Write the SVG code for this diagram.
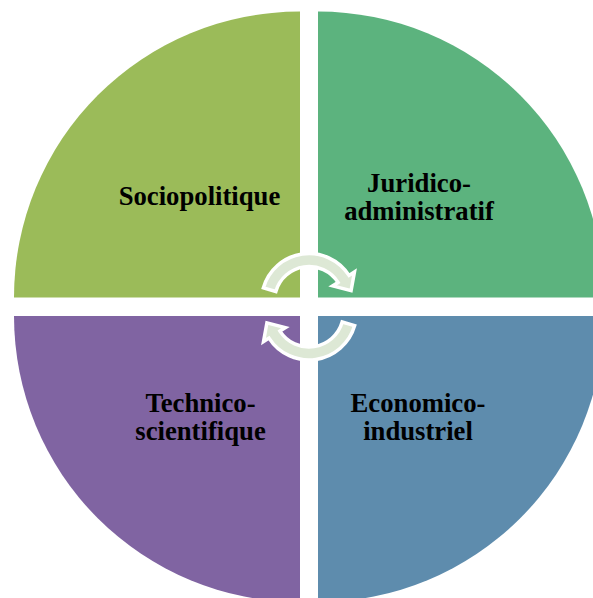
<svg xmlns="http://www.w3.org/2000/svg" width="593" height="598" viewBox="0 0 593 598">
<defs>
<style>
.lbl{font-family:"Liberation Serif","Times New Roman",serif;font-weight:bold;font-size:26.7px;fill:#000;text-anchor:middle}
.arrow{fill:#DDE8D5;stroke:#fff;stroke-width:3.5;stroke-linejoin:miter}
</style>
<path id="cyc" class="arrow" d="M 263.34 287.91 A 47.5 47.5 0 0 1 349.02 275.41 L 354.49 271.91 L 351.08 290.70 L 332.59 285.91 L 338.06 282.41 A 34.5 34.5 0 0 0 275.84 291.49 Z"/>
</defs>
<rect width="593" height="598" fill="#fff"/>
<g id="sociopolitique">
<path d="M 300 297.5 L 14 297.5 A 286 286 0 0 1 300 11.5 Z" fill="#9BBB59"/>
<text class="lbl" x="199.5" y="205">Sociopolitique</text>
</g>
<g id="juridico">
<path d="M 318 297.5 L 318 11.5 A 286 286 0 0 1 604 297.5 Z" fill="#5CB37E"/>
<text class="lbl" x="419" y="191.5">Juridico-</text>
<text class="lbl" x="419" y="219.5">administratif</text>
</g>
<g id="technico">
<path d="M 300 316 L 300 602 A 286 286 0 0 1 14 316 Z" fill="#8064A2"/>
<text class="lbl" x="200.5" y="411.5">Technico-</text>
<text class="lbl" x="200.5" y="439.5">scientifique</text>
</g>
<g id="economico">
<path d="M 318 316 L 604 316 A 286 286 0 0 1 318 602 Z" fill="#5E8CAD"/>
<text class="lbl" x="418" y="411.5">Economico-</text>
<text class="lbl" x="418" y="439.5">industriel</text>
</g>
<g id="connectors">
<use href="#cyc"/>
<use href="#cyc" transform="rotate(180 309 306.75)"/>
</g>
</svg>
